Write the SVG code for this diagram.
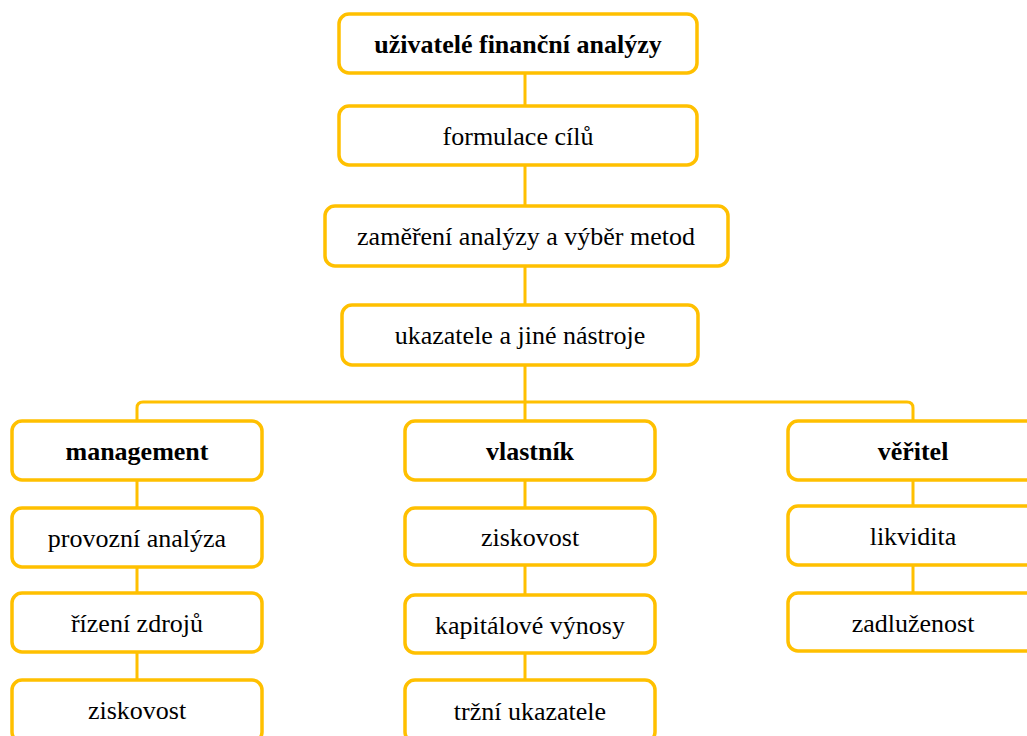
<svg xmlns="http://www.w3.org/2000/svg" width="1027" height="736" viewBox="0 0 1027 736">
<style>
.box{fill:#fff;stroke:#FFC000;stroke-width:3.5}
.ln{fill:none;stroke:#FFC000;stroke-width:3}
text{font-family:'Liberation Serif','Times New Roman','DejaVu Serif',serif;font-size:26px;fill:#000;text-anchor:middle}
.b{font-weight:bold}
</style>
<rect width="1027" height="736" fill="#fff"/>
<g id="connectors">
<path class="ln" d="M525 73V106M525 165V206M525 266V305M525 365V421"/>
<path class="ln" d="M137 421V408Q137 402 143 402H907Q913 402 913 408V421"/>
<path class="ln" d="M137 480V508M137 567V593M137 652V680"/>
<path class="ln" d="M525 480V508M525 565V595M525 653V680"/>
<path class="ln" d="M913 480V506M913 565V593"/>
</g>
<g id="n1"><rect class="box" x="339" y="14" width="358" height="59" rx="10"/><text class="b" x="518" y="53" font-family="Liberation Serif, serif">uživatelé finanční analýzy</text></g>
<g id="n2"><rect class="box" x="339" y="106" width="358" height="59" rx="10"/><text x="518" y="145" font-family="Liberation Serif, serif">formulace cílů</text></g>
<g id="n3"><rect class="box" x="325" y="206" width="403" height="60" rx="10"/><text x="526" y="245" font-family="Liberation Serif, serif">zaměření analýzy a výběr metod</text></g>
<g id="n4"><rect class="box" x="342" y="305" width="356" height="60" rx="10"/><text x="520" y="344" font-family="Liberation Serif, serif">ukazatele a jiné nástroje</text></g>
<g id="m0"><rect class="box" x="12" y="421" width="250" height="59" rx="10"/><text class="b" x="137" y="460" font-family="Liberation Serif, serif">management</text></g>
<g id="m1"><rect class="box" x="12" y="508" width="250" height="59" rx="10"/><text x="137" y="547" font-family="Liberation Serif, serif">provozní analýza</text></g>
<g id="m2"><rect class="box" x="12" y="593" width="250" height="59" rx="10"/><text x="137" y="632" font-family="Liberation Serif, serif">řízení zdrojů</text></g>
<g id="m3"><rect class="box" x="12" y="680" width="250" height="62" rx="10"/><text x="137" y="719" font-family="Liberation Serif, serif">ziskovost</text></g>
<g id="v0"><rect class="box" x="405" y="421" width="250" height="59" rx="10"/><text class="b" x="530" y="460" font-family="Liberation Serif, serif">vlastník</text></g>
<g id="v1"><rect class="box" x="405" y="508" width="250" height="57" rx="10"/><text x="530" y="546" font-family="Liberation Serif, serif">ziskovost</text></g>
<g id="v2"><rect class="box" x="405" y="595" width="250" height="58" rx="10"/><text x="530" y="634" font-family="Liberation Serif, serif">kapitálové výnosy</text></g>
<g id="v3"><rect class="box" x="405" y="680" width="250" height="62" rx="10"/><text x="530" y="720" font-family="Liberation Serif, serif">tržní ukazatele</text></g>
<g id="c0"><rect class="box" x="788" y="421" width="250" height="59" rx="10"/><text class="b" x="913" y="460" font-family="Liberation Serif, serif">věřitel</text></g>
<g id="c1"><rect class="box" x="788" y="506" width="250" height="59" rx="10"/><text x="913" y="545" font-family="Liberation Serif, serif">likvidita</text></g>
<g id="c2"><rect class="box" x="788" y="593" width="250" height="58" rx="10"/><text x="913" y="632" font-family="Liberation Serif, serif">zadluženost</text></g>
</svg>
